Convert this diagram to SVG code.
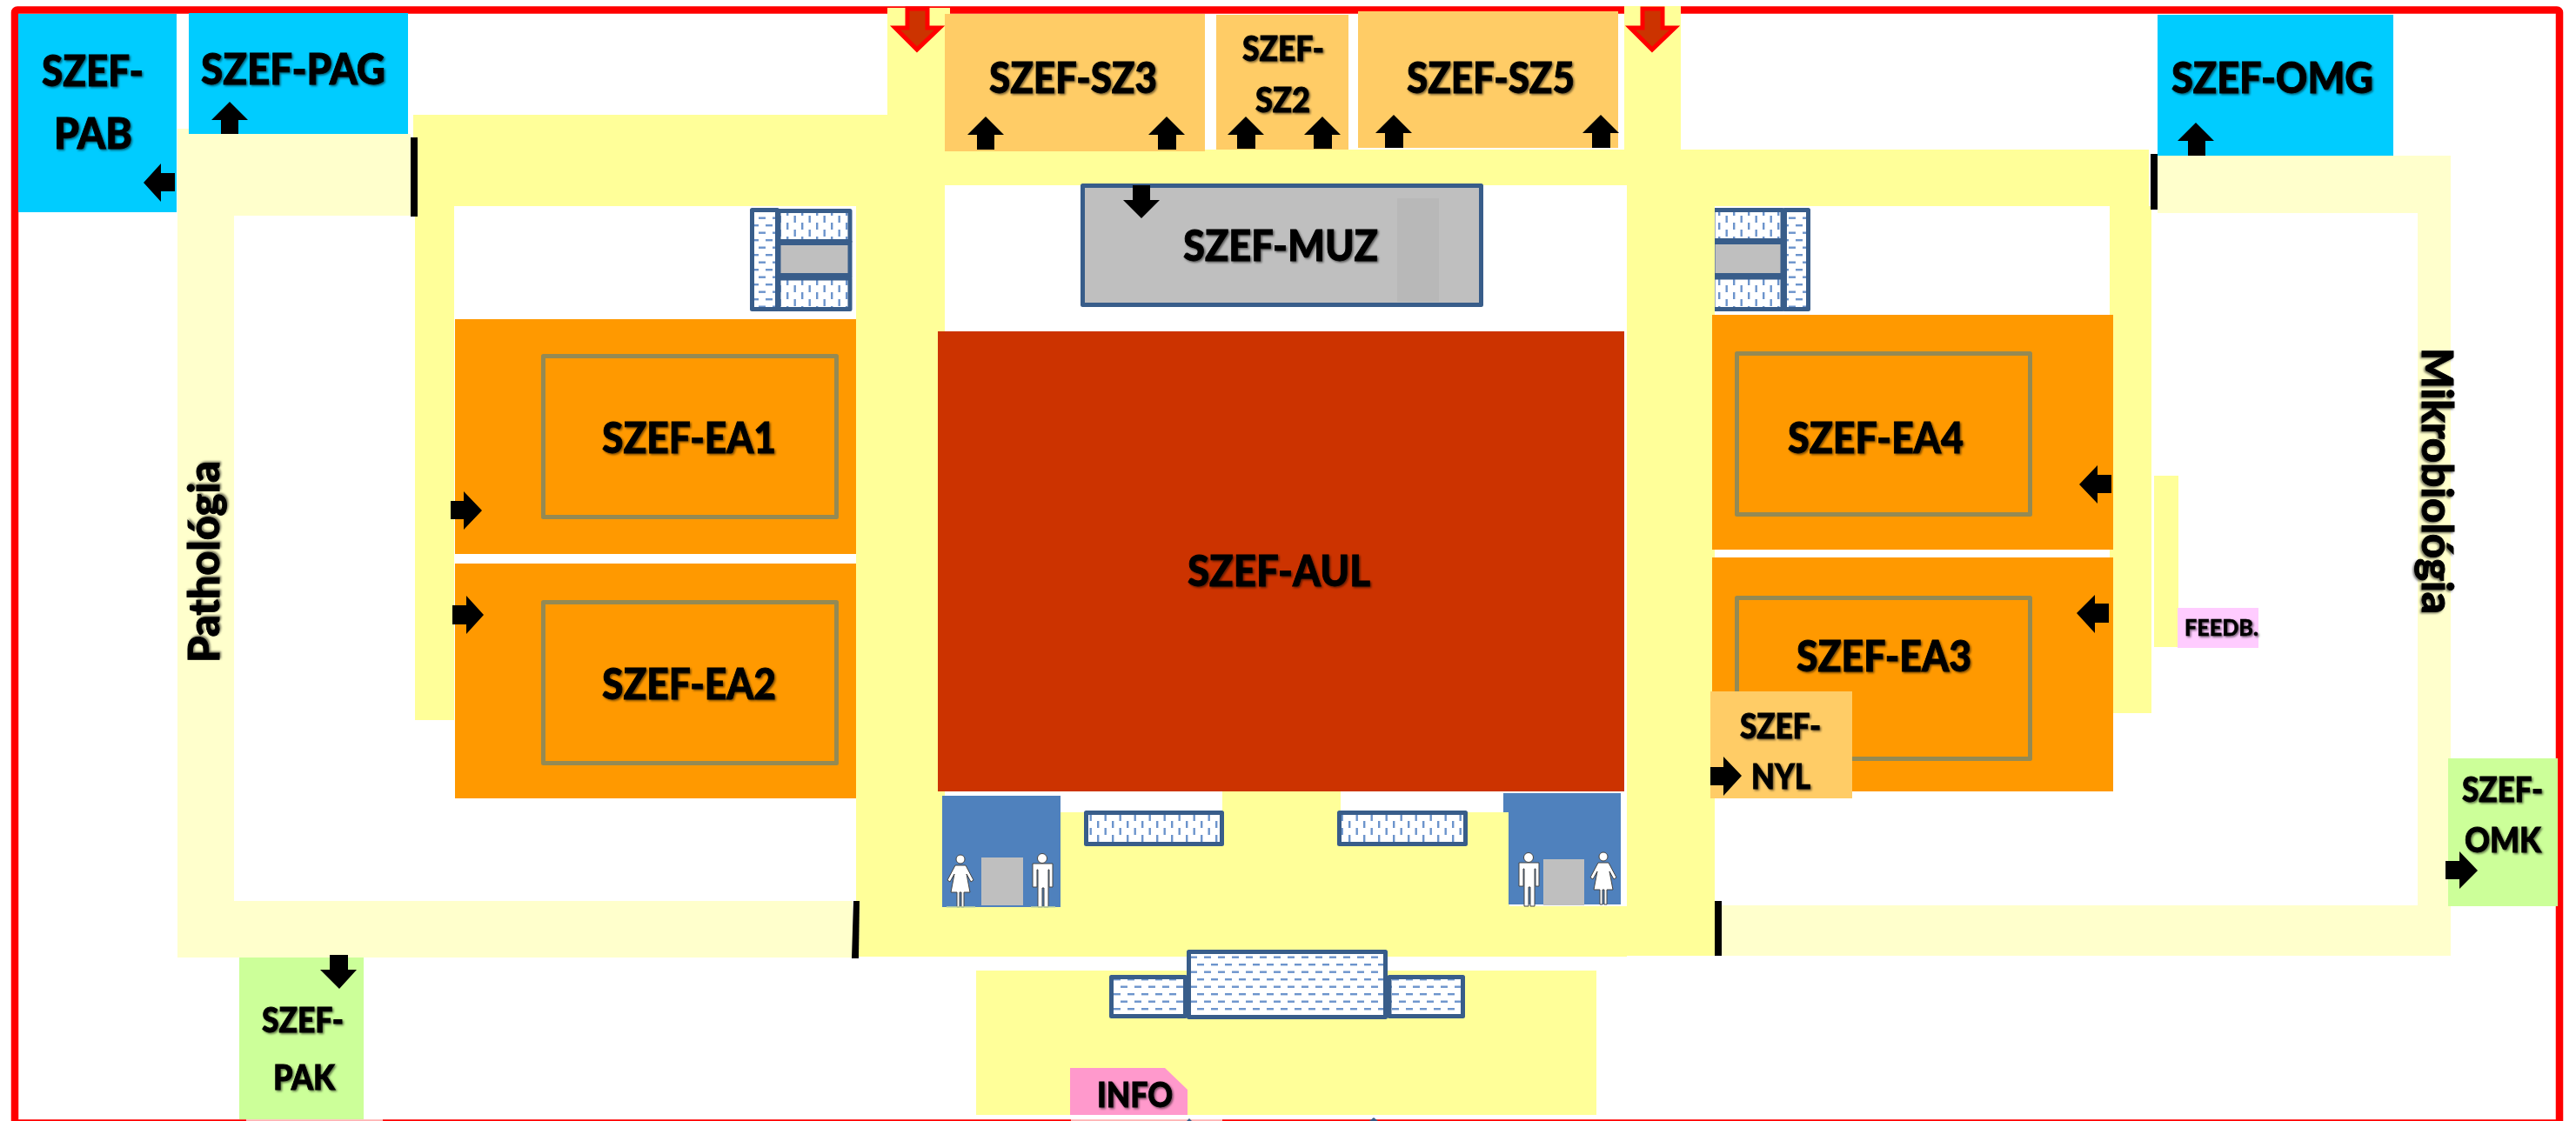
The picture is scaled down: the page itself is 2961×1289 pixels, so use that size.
<svg xmlns="http://www.w3.org/2000/svg" width="2961" height="1289" viewBox="0 0 2961 1289">
<style>
.t{font-family:Lato,"Liberation Sans",sans-serif;font-weight:900;fill:#000;stroke:#000;stroke-width:.9;filter:url(#sh)}
.b{fill:#FFFF99}.l{fill:#FFFFCC}.w{fill:#fff}
.o{fill:#FF9900}.s{fill:#FFCC66}.c{fill:#00CCFF}.g{fill:#CCFF99}
.f{fill:none;stroke:#948A54;stroke-width:5;stroke-linejoin:round}
.pv{fill:url(#pv);stroke:#385D8A;stroke-width:5;stroke-linejoin:round}
.ph{fill:url(#ph);stroke:#385D8A;stroke-width:5;stroke-linejoin:round}
.ar{fill:#000}
.red{fill:#CC3300;stroke:#FF0000;stroke-width:5}
.gray{fill:#BFBFBF}
.wc{fill:#4F81BD}
.fig{fill:#fff;stroke:#444;stroke-width:1}
</style>
<defs>
<filter id="sh" x="-10%" y="-20%" width="120%" height="150%"><feDropShadow dx="1.5" dy="1.5" stdDeviation="1" flood-color="#000" flood-opacity=".55"/></filter>
<pattern id="ph" width="16" height="17" patternUnits="userSpaceOnUse">
<rect width="16" height="17" fill="#fff"/><rect x="0" y="3" width="8" height="2.4" fill="#6C94CC"/><rect x="8" y="11.5" width="8" height="2.4" fill="#6C94CC"/>
</pattern>
<pattern id="pv" width="17" height="16" patternUnits="userSpaceOnUse">
<rect width="17" height="16" fill="#fff"/><rect x="3" y="0" width="2.4" height="8" fill="#6C94CC"/><rect x="11.5" y="8" width="2.4" height="8" fill="#6C94CC"/>
</pattern>
<symbol id="woman" overflow="visible"><circle cx="1104" cy="988" r="5"/><path d="M1098 995h12l9 17-3 2-5-9 4 21h-7v17h-3v-17h-2v17h-3v-17h-7l4-21-5 9-3-2z"/></symbol>
<symbol id="man" overflow="visible"><circle cx="1198" cy="987" r="5.500"/><path d="M1187 993h23v27h-4v-20h-1v43h-5v-22h-2v22h-5v-43h-1v20h-5z"/></symbol>
</defs>

<rect width="2961" height="1289" class="w"/>
<rect id="frame" x="17" y="11.500" width="2925" height="1280" rx="3" fill="none" stroke="#FF0000" stroke-width="8.500"/>
<rect x="283" y="1286" width="157" height="3" fill="#fff" opacity=".7"/>
<rect x="1231" y="1286" width="174" height="3" fill="#fff" opacity=".7"/>
<path d="M1364 1289l3-3 3 3zM1574 1289l5-4 5 4z" fill="#385D8A"/>

<g id="corridors">
<path class="l" d="M204 148H217V154H472V248H269V1036H980V1101H204z"/>
<path class="l" d="M2480 179H2817V1099H1979V1041H2779V245H2480z"/>
<rect class="b" x="475" y="132" width="545" height="105"/>
<rect class="b" x="1020" y="9" width="72" height="204"/>
<rect class="b" x="1092" y="172" width="775" height="41"/>
<rect class="b" x="1867" y="7" width="65" height="206"/>
<rect class="b" x="1932" y="172" width="538" height="65"/>
<rect class="b" x="477" y="237" width="45" height="591"/>
<rect class="b" x="2425" y="237" width="48" height="583"/>
<rect class="b" x="984" y="213" width="102" height="887"/>
<rect class="b" x="1870" y="213" width="101" height="886"/>
<rect class="b" x="1086" y="934" width="784" height="166"/>
<rect class="b" x="1405" y="910" width="136" height="24"/>
<rect class="w" x="1735" y="934" width="135" height="108"/>
<rect class="b" x="2476" y="547" width="28" height="197"/>
<rect class="b" x="1122" y="1116" width="713" height="166"/>
<rect x="472" y="158" width="8" height="91" fill="#000"/>
<rect x="2472" y="177" width="8" height="64" fill="#000"/>
<path d="M981 1036h7l-1 66h-8z" fill="#000"/>
<rect x="1971" y="1036" width="8" height="63" fill="#000"/>
</g>

<g id="SZEF-PAB"><rect class="c" x="21" y="16" width="182" height="228"/>
<text class="t" x="48" y="99" font-size="49" textLength="117" lengthAdjust="spacingAndGlyphs">SZEF-</text>
<text class="t" x="62" y="171" font-size="49" textLength="90" lengthAdjust="spacingAndGlyphs">PAB</text></g>
<g id="SZEF-PAG"><rect class="c" x="217" y="15" width="252" height="139"/>
<text class="t" x="231" y="97" font-size="49" textLength="212" lengthAdjust="spacingAndGlyphs">SZEF-PAG</text></g>
<g id="SZEF-OMG"><rect class="c" x="2480" y="17" width="271" height="162"/>
<text class="t" x="2496" y="107" font-size="49" textLength="232" lengthAdjust="spacingAndGlyphs">SZEF-OMG</text></g>
<g id="SZEF-SZ3"><rect class="s" x="1086" y="16" width="299" height="158"/>
<text class="t" x="1137" y="107" font-size="49" textLength="193" lengthAdjust="spacingAndGlyphs">SZEF-SZ3</text></g>
<g id="SZEF-SZ2"><rect class="s" x="1398" y="17" width="152" height="155"/>
<text class="t" x="1428" y="70" font-size="39" textLength="94" lengthAdjust="spacingAndGlyphs">SZEF-</text>
<text class="t" x="1443" y="129" font-size="39" textLength="63" lengthAdjust="spacingAndGlyphs">SZ2</text></g>
<g id="SZEF-SZ5"><rect class="s" x="1561" y="13" width="299" height="157"/>
<text class="t" x="1617" y="107" font-size="49" textLength="193" lengthAdjust="spacingAndGlyphs">SZEF-SZ5</text></g>

<g id="SZEF-MUZ"><rect x="1244.500" y="213.500" width="458" height="137" class="gray" stroke="#385D8A" stroke-width="5" stroke-linejoin="round"/>
<rect x="1606" y="228" width="48" height="119" fill="#B8B8B8"/>
<text class="t" x="1360" y="300" font-size="49" textLength="224" lengthAdjust="spacingAndGlyphs">SZEF-MUZ</text></g>

<g id="stair-left"><rect class="ph" x="864.500" y="241.500" width="29" height="114"/>
<rect class="pv" x="895" y="242.500" width="82" height="35"/>
<rect class="gray" x="895" y="279.500" width="82" height="37" stroke="#385D8A" stroke-width="5"/>
<rect class="pv" x="895" y="320" width="82" height="35.500"/></g>
<g id="stair-right"><rect class="pv" x="1969" y="241.500" width="80" height="35"/>
<rect class="gray" x="1969" y="278.500" width="80" height="38" stroke="#385D8A" stroke-width="5"/>
<rect class="pv" x="1969" y="319" width="80" height="36.500"/>
<rect class="ph" x="2051.500" y="241.500" width="27" height="114"/>
<rect class="b" x="1960" y="237" width="11" height="125"/></g>

<g id="SZEF-EA1"><rect class="o" x="523" y="367" width="461" height="270"/>
<rect class="f" x="624.500" y="409.500" width="337" height="185"/>
<text class="t" x="692" y="521" font-size="49" textLength="200" lengthAdjust="spacingAndGlyphs">SZEF-EA1</text></g>
<g id="SZEF-EA2"><rect class="o" x="523" y="648" width="461" height="270"/>
<rect class="f" x="624.500" y="692.500" width="337" height="185"/>
<text class="t" x="692" y="804" font-size="49" textLength="200" lengthAdjust="spacingAndGlyphs">SZEF-EA2</text></g>
<g id="SZEF-EA4"><rect class="o" x="1968" y="362" width="461" height="270"/>
<rect class="f" x="1996.500" y="406.500" width="337" height="185"/>
<text class="t" x="2055" y="521" font-size="49" textLength="202" lengthAdjust="spacingAndGlyphs">SZEF-EA4</text></g>
<g id="SZEF-EA3"><rect class="o" x="1968" y="641" width="461" height="269"/>
<rect class="f" x="1996.500" y="687.500" width="337" height="185"/>
<text class="t" x="2065" y="772" font-size="49" textLength="201" lengthAdjust="spacingAndGlyphs">SZEF-EA3</text></g>

<g id="SZEF-AUL"><rect x="1078" y="381" width="789" height="529" fill="#CC3300"/>
<text class="t" x="1365" y="674" font-size="49" textLength="210" lengthAdjust="spacingAndGlyphs">SZEF-AUL</text></g>

<g id="wc-left"><rect class="wc" x="1083" y="915" width="136" height="128"/>
<rect class="gray" x="1128" y="986" width="48" height="55"/>
<use href="#woman" class="fig"/><use href="#man" class="fig"/>
<path d="M1088 1043h33M1185 1043h28" stroke="#C8DCA0" stroke-width="1.500"/></g>
<g id="wc-right"><path class="wc" d="M1728 912H1863V1040H1734V934H1728z"/>
<rect class="gray" x="1774" y="988" width="47" height="53"/>
<use href="#man" x="559" y="-1" class="fig"/><use href="#woman" x="739" y="-3" class="fig"/></g>

<g id="benches"><rect class="pv" x="1248.500" y="934.500" width="156" height="36"/>
<rect class="pv" x="1539.500" y="934.500" width="145" height="36"/></g>
<g id="desk"><rect class="ph" x="1277.500" y="1123.500" width="85" height="45"/>
<rect class="ph" x="1597" y="1123.500" width="84.500" height="45"/>
<rect class="ph" x="1366.500" y="1094.500" width="226" height="75"/></g>

<g id="INFO"><path d="M1230 1228H1339L1365 1253V1282H1230z" fill="#FF99CC"/>
<text class="t" x="1261" y="1273" font-size="39" textLength="87" lengthAdjust="spacingAndGlyphs">INFO</text></g>
<g id="SZEF-NYL"><rect class="s" x="1966" y="795" width="163" height="123"/>
<text class="t" x="2000" y="849" font-size="39" textLength="93" lengthAdjust="spacingAndGlyphs">SZEF-</text>
<text class="t" x="2013" y="907" font-size="39" textLength="68" lengthAdjust="spacingAndGlyphs">NYL</text></g>
<g id="SZEF-PAK"><rect class="g" x="275" y="1101" width="143" height="186"/>
<text class="t" x="301" y="1187" font-size="39" textLength="94" lengthAdjust="spacingAndGlyphs">SZEF-</text>
<text class="t" x="314" y="1253" font-size="39" textLength="71" lengthAdjust="spacingAndGlyphs">PAK</text></g>
<g id="SZEF-OMK"><rect class="g" x="2814" y="872" width="126" height="170"/>
<text class="t" x="2830" y="922" font-size="39" textLength="93" lengthAdjust="spacingAndGlyphs">SZEF-</text>
<text class="t" x="2833" y="980" font-size="39" textLength="88" lengthAdjust="spacingAndGlyphs">OMK</text></g>
<g id="FEEDB"><rect x="2503" y="699" width="93" height="46" fill="#FFCCFF"/>
<text class="t" x="2511" y="731" font-size="26" textLength="85" lengthAdjust="spacingAndGlyphs" style="stroke-width:.4">FEEDB.</text></g>
<g id="Pathologia"><text class="t" transform="translate(252 762) rotate(-90)" font-size="49" textLength="232" lengthAdjust="spacingAndGlyphs">Pathológia</text></g>
<g id="Mikrobiologia"><text class="t" transform="translate(2784 400) rotate(90)" font-size="49" textLength="306" lengthAdjust="spacingAndGlyphs">Mikrobiológia</text></g>

<g id="connectors">
<path class="red" d="M1043 10H1066V32H1080L1054 57 1029 32H1043z"/>
<path class="red" d="M1888 10H1911V32H1925L1899 57 1874 32H1888z"/>
<polygon class="ar" points="264,117 285,138 274,138 274,154 254,154 254,138 243,138"/>
<polygon class="ar" points="165,210 185,188 185,199 201,199 201,220 185,220 185,232"/>
<polygon class="ar" points="1133,134 1154,155 1143,155 1143,172 1123,172 1123,155 1112,155"/>
<polygon class="ar" points="1341,134 1362,155 1352,155 1352,172 1331,172 1331,155 1320,155"/>
<polygon class="ar" points="1432,134 1453,155 1443,155 1443,171 1422,171 1422,155 1411,155"/>
<polygon class="ar" points="1520,134 1541,155 1531,155 1531,171 1510,171 1510,155 1499,155"/>
<polygon class="ar" points="1602,132 1623,153 1613,153 1613,170 1592,170 1592,153 1581,153"/>
<polygon class="ar" points="1840,132 1861,153 1851,153 1851,170 1830,170 1830,153 1819,153"/>
<polygon class="ar" points="2524,141 2545,162 2535,162 2535,179 2515,179 2515,162 2503,162"/>
<polygon class="ar" points="1312,251 1333,230 1322,230 1322,213 1302,213 1302,230 1291,230"/>
<polygon class="ar" points="390,1137 410,1115 400,1115 400,1098 379,1098 379,1115 368,1115"/>
<polygon class="ar" points="554,587 533,565 533,576 518,576 518,597 533,597 533,609"/>
<polygon class="ar" points="556,707 536,685 536,696 520,696 520,718 536,718 536,729"/>
<polygon class="ar" points="2390,557 2411,535 2411,546 2427,546 2427,567 2411,567 2411,579"/>
<polygon class="ar" points="2387,705 2408,684 2408,694 2424,694 2424,716 2408,716 2408,728"/>
<polygon class="ar" points="2002,892 1981,870 1981,882 1966,882 1966,903 1981,903 1981,915"/>
<polygon class="ar" points="2848,1001 2827,979 2827,990 2811,990 2811,1011 2827,1011 2827,1022"/>
</g>
</svg>
